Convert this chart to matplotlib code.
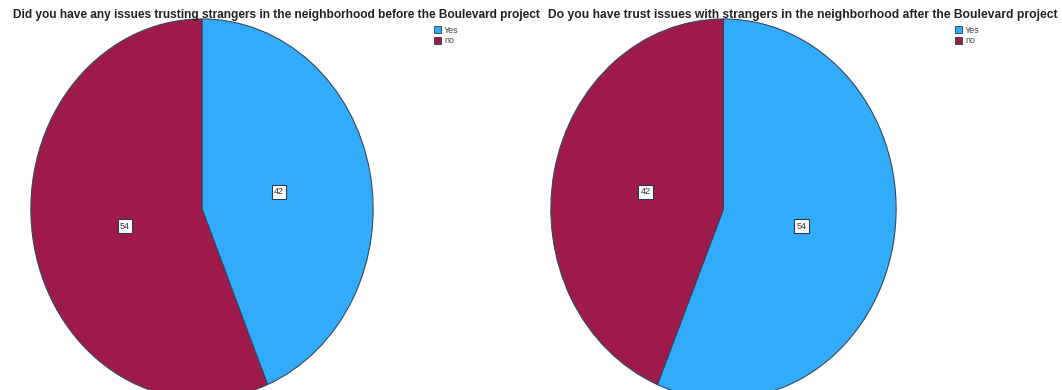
import matplotlib.pyplot as plt
from matplotlib.patches import Patch

plt.rcParams['font.family'] = ['Liberation Sans', 'DejaVu Sans']

labels = ['Yes', 'no']
before_counts = [42, 54]
after_counts = [54, 42]
titles = [
    'Did you have any issues trusting strangers in the neighborhood before the Boulevard project',
    'Do you have trust issues with strangers in the neighborhood after the Boulevard project',
]
colors = ['#33abfb', '#9e1a4b']

W, H = 1062, 390
fig = plt.figure(figsize=(W / 100, H / 100), dpi=100)


def px_axes(x0, y_top, w, h):
    return fig.add_axes([x0 / W, 1 - (y_top + h) / H, w / W, h / H])


def draw_pie(ax, counts):
    ax.pie(counts, colors=colors, startangle=90, counterclock=False,
           autopct=lambda p: f'{p * sum(counts) / 100:.0f}', pctdistance=0.46,
           wedgeprops=dict(edgecolor='#34495e', linewidth=0.8),
           textprops=dict(fontsize=6.5, color='#333333',
                          bbox=dict(boxstyle='square,pad=0.25', fc='white',
                                    ec='#2b3a4a', lw=0.8)))
    ax.set_aspect('auto')
    ax.set_xlim(-1.005, 1.005)
    ax.set_ylim(-1.005, 1.005)


ax1 = px_axes(30, 18, 344, 382)
draw_pie(ax1, before_counts)
ax2 = px_axes(550, 18, 347, 382)
draw_pie(ax2, after_counts)

fig.text(276 / W, 1 - 15 / H, titles[0], ha='center', va='center',
         fontsize=8.6, fontweight='bold', color='#222222')
fig.text(803 / W, 1 - 15 / H, titles[1], ha='center', va='center',
         fontsize=8.7, fontweight='bold', color='#222222')

handles = [Patch(facecolor=c, edgecolor='#2b3a4a', linewidth=0.6) for c in colors]
for lx in (434, 955):
    fig.legend(handles, labels, loc='upper left',
               bbox_to_anchor=(lx / W, 1 - 26 / H), frameon=False,
               fontsize=6.5, handlelength=0.8, handleheight=0.8,
               handletextpad=0.3, labelspacing=0.15, borderpad=0,
               borderaxespad=0, labelcolor='#444444')

fig.savefig('out.png', dpi=100)
